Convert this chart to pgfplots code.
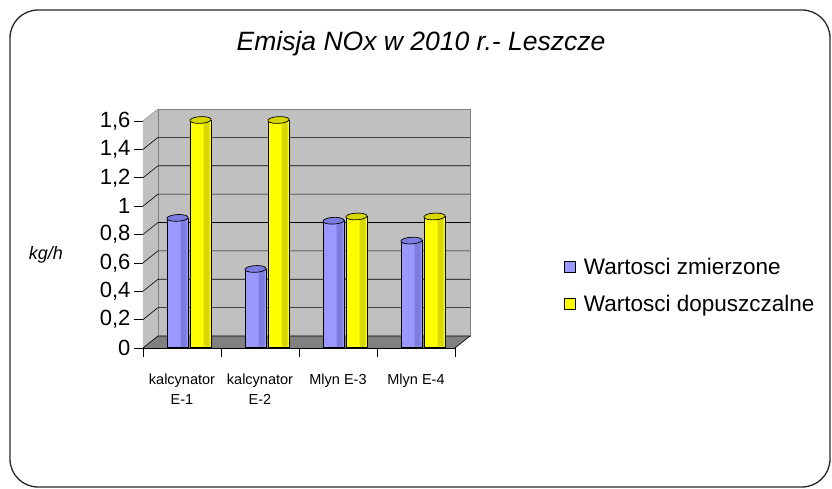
\documentclass[border=0pt]{standalone}
\usepackage{pgfplots}
\pgfplotsset{compat=1.18}
\usepackage{fontspec}
\setmainfont{Liberation Sans}
\definecolor{wallgray}{HTML}{C0C0C0}
\definecolor{floorgray}{HTML}{808080}
\definecolor{barblue}{HTML}{9999FF}
\definecolor{barbluedark}{HTML}{7C7CE0}
\definecolor{baryellow}{HTML}{FFFF00}
\definecolor{baryellowdark}{HTML}{D8D800}

% oblique top face of the cylinders
\pgfdeclareplotmark{cap}{%
  \pgfpathellipse{\pgfpointorigin}{\pgfpoint{10.5pt}{0pt}}{\pgfpoint{1.5pt}{3.4pt}}%
  \pgfusepathqfillstroke}

\begin{document}
\begin{tikzpicture}
\useasboundingbox (-143pt,-141pt) rectangle (689pt,348pt);
\draw[rounded corners=28pt, line width=1.3pt, black!85] (-133pt,-139pt) rectangle (687pt,338pt);
\begin{axis}[
    at={(0pt,0pt)}, anchor=south west,
    scale only axis, width=312pt, height=227pt,
    clip=false,
    xmin=-0.5, xmax=3.5, ymin=0, ymax=1.6,
    axis lines*=left,
    axis line style={black, line width=0.7pt},
    y axis line style={floorgray},
    tick align=outside,
    tick style={black, line width=0.6pt},
    ytick={0,0.2,...,1.6},
    y tick label style={font=\fontsize{22}{26}\selectfont},
    /pgf/number format/use comma,
    /pgf/number format/assume math mode=true,
    yticklabel style={/pgf/number format/fixed},
    major tick length=9pt,
    xtick={-0.5,0.5,1.5,2.5,3.5},
    xticklabels={,,,,},
    extra x ticks={0,1,2,3},
    extra x tick labels={{kalcynator\\E-1},{kalcynator\\E-2},{Mlyn E-3},{Mlyn E-4}},
    extra x tick style={major tick length=0pt,
        tick label style={align=center, font=\fontsize{14.5}{20}\selectfont, yshift=-22pt}},
    legend style={draw=none, fill=none, font=\fontsize{22.5}{26}\selectfont,
        at={(1.34,0.275)}, anchor=west, row sep=15pt},
    legend cell align=left,
]
% left wall, back wall and floor
\fill[wallgray] (rel axis cs:0,0) -- (rel axis cs:0,1) -- ([shift={(15pt,12pt)}]rel axis cs:0,1) -- ([shift={(15pt,12pt)}]rel axis cs:0,0) -- cycle;
\filldraw[fill=wallgray, draw=floorgray] ([shift={(15pt,12pt)}]rel axis cs:0,0) rectangle ([shift={(15pt,12pt)}]rel axis cs:1,1);
\draw[floorgray] (rel axis cs:0,1) -- ([shift={(15pt,12pt)}]rel axis cs:0,1);
\fill[floorgray] (rel axis cs:0,0) -- (rel axis cs:1,0) -- ([shift={(15pt,12pt)}]rel axis cs:1,0) -- ([shift={(15pt,12pt)}]rel axis cs:0,0) -- cycle;
\pgfplotsinvokeforeach{0,0.2,0.4,0.6,0.8,1.0,1.2,1.4}{
  \draw[black, line width=0.6pt] (axis cs:-0.5,#1) -- ([shift={(15pt,12pt)}]axis cs:-0.5,#1) -- ([shift={(15pt,12pt)}]axis cs:3.5,#1);
}
\draw[black, line width=0.6pt] (rel axis cs:1,0) -- ([shift={(15pt,12pt)}]rel axis cs:1,0);

% measured values
\addplot[ybar, bar width=21pt, bar shift=-11.5pt, xshift=7pt, yshift=1pt, forget plot,
    draw=black, line width=0.7pt, fill=barblue]
    coordinates {(0,0.91) (1,0.55) (2,0.89) (3,0.75)};
\addplot[ybar, bar width=6pt, bar shift=-5.5pt, xshift=7pt, yshift=1.35pt, forget plot,
    draw=none, fill=barbluedark]
    coordinates {(0,0.905) (1,0.545) (2,0.885) (3,0.745)};
% permitted values
\addplot[ybar, bar width=21pt, bar shift=11.5pt, xshift=7pt, yshift=1pt, forget plot,
    draw=black, line width=0.7pt, fill=baryellow]
    coordinates {(0,1.6) (1,1.6) (2,0.92) (3,0.92)};
\addplot[ybar, bar width=6pt, bar shift=17.5pt, xshift=7pt, yshift=1.35pt, forget plot,
    draw=none, fill=baryellowdark]
    coordinates {(0,1.595) (1,1.595) (2,0.915) (3,0.915)};
\addplot[only marks, mark=cap, xshift=-4.5pt, yshift=1pt, forget plot,
    mark options={fill=barbluedark, draw=black, line width=0.7pt}]
    coordinates {(0,0.91) (1,0.55) (2,0.89) (3,0.75)};
\addplot[only marks, mark=cap, xshift=18.5pt, yshift=1pt, forget plot,
    mark options={fill=baryellowdark, draw=black, line width=0.7pt}]
    coordinates {(0,1.6) (1,1.6) (2,0.92) (3,0.92)};

\addlegendimage{legend image code/.code={\draw[fill=barblue, draw=black, line width=0.8pt] (0pt,-5pt) rectangle (11pt,6pt); \path (17pt,0pt);}}
\addlegendentry{Wartosci zmierzone}
\addlegendimage{legend image code/.code={\draw[fill=baryellow, draw=black, line width=0.8pt] (0pt,-5pt) rectangle (11pt,6pt); \path (17pt,0pt);}}
\addlegendentry{Wartosci dopuszczalne}
\end{axis}
\node[font=\itshape\fontsize{26.5}{30}\selectfont] at (278pt,304pt) {Emisja NOx w 2010 r.- Leszcze};
\node[font=\itshape\fontsize{18}{22}\selectfont] at (-97pt,93pt) {kg/h};
\end{tikzpicture}
\end{document}
